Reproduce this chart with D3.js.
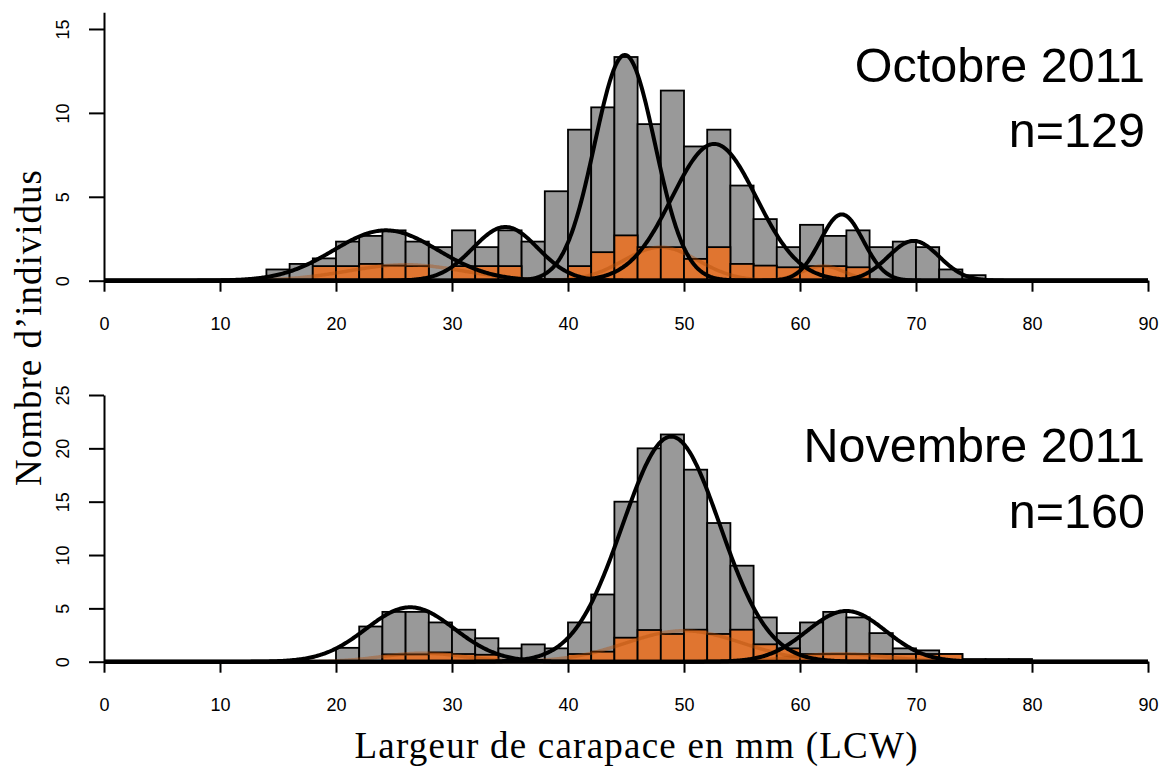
<!DOCTYPE html>
<html><head><meta charset="utf-8">
<script src="https://cdn.jsdelivr.net/npm/d3@7/dist/d3.min.js"></script>
<style>body{margin:0;background:#fff}svg{display:block}</style>
</head><body>
<svg id="c" width="1174" height="769"></svg>
<script>
// ---------- data ----------
const binWidth = 2;
const xTicks = [0,10,20,30,40,50,60,70,80,90];

// Octobre 2011
const octTitle = "Octobre 2011";
const octN = "n=129";
const octBins   = [14,16,18,20,22,24,26,28,30,32,34,36,38,40,42,44,46,48,50,52,54,56,58,60,62,64,66,68,70,72,74];
const octGray   = [0.67,1,1.33,2.33,2.67,3,2.33,2,3,2,3,2.33,5.33,9,10.33,13.33,9.33,11.33,8,9,5.67,3.67,2,3.33,2.67,3,2,2.33,2,0.67,0.33];
const octOrange = [0,0,0.87,0.87,1.0,0.9,0.87,0,0.87,0.87,0.87,0,0,0.87,1.7,2.7,2,2,1.3,2,1,0.9,0.8,0.87,0.87,0.8,0,0,0,0,0];
const octYTicks = [0,5,10,15];
const octYMax = 16;
// fitted components (mean, sd, peak height)
const octMeans = [24.3,34.6,44.9,52.6,63.6,69.8];
const octSds   = [4.5,2.8,2.6,3.65,1.85,2.2];
const octPeaks = [3.0,3.2,13.45,8.15,3.95,2.37];
const octOrMeans = [26,48,62];
const octOrSds   = [5,3.2,1.8];
const octOrPeaks = [0.95,2.0,0.88];

// Novembre 2011
const novTitle = "Novembre 2011";
const novN = "n=160";
const novBins   = [20,22,24,26,28,30,32,34,36,38,40,42,44,46,48,50,52,54,56,58,60,62,64,66,68,70,72,74,76,78];
const novGray   = [1.3,3.3,4.67,4.67,3.68,3,2.2,1.25,1.62,1.25,3.68,6.3,15,20,21.3,18,13,9,4.15,2.68,3.68,4.67,4.15,2.68,1.25,1.06,0.72,0.25,0.25,0.25];
const novOrange = [0,0,0.69,0.69,0.87,0.72,0.65,0,0,0,0.72,0.94,2.25,2.97,2.6,3,2.6,3,1.63,1.25,0.72,0.72,0.72,0.72,0.72,0.72,0.72,0,0,0];
const novYTicks = [0,5,10,15,20,25];
const novYMax = 25;
const novMeans = [26.4,48.9,64.0];
const novSds   = [3.8,4.2,3.4];
const novPeaks = [5.1,21.1,4.75];
const novOrMeans = [27.5,50,63.5];
const novOrSds   = [3.5,5,4];
const novOrPeaks = [0.8,2.9,0.75];

const yLabel = "Nombre d\u2019individus";
const xLabel = "Largeur de carapace en mm (LCW)";

// ---------- drawing ----------
const svg = d3.select("#c");
svg.append("rect").attr("width",1174).attr("height",769).attr("fill","#fff");

const x = d3.scaleLinear().domain([0,90]).range([104,1148]);
const gridX = d3.range(0, 90.001, 0.1);

const panels = [
  {title:octTitle, n:octN, bins:octBins, gray:octGray, orange:octOrange, yTicks:octYTicks, yMax:octYMax,
   means:octMeans, sds:octSds, peaks:octPeaks, oMeans:octOrMeans, oSds:octOrSds, oPeaks:octOrPeaks,
   y0:280.7, yTop:12.2, tBase:82, nBase:147},
  {title:novTitle, n:novN, bins:novBins, gray:novGray, orange:novOrange, yTicks:novYTicks, yMax:novYMax,
   means:novMeans, sds:novSds, peaks:novPeaks, oMeans:novOrMeans, oSds:novOrSds, oPeaks:novOrPeaks,
   y0:661.7, yTop:395, tBase:462, nBase:528}
];

const gauss = (m,s,h) => v => h*Math.exp(-((v-m)*(v-m))/(2*s*s));

panels.forEach(p => {
  const y = d3.scaleLinear().domain([0,p.yMax]).range([p.y0,p.yTop]);
  const g = svg.append("g");

  // gray bars
  g.selectAll("rect.gray").data(p.bins.map((b,i)=>({b, v:p.gray[i]})))
    .join("rect").attr("class","gray")
    .attr("x", d=>x(d.b)).attr("width", d=>x(d.b+binWidth)-x(d.b))
    .attr("y", d=>y(d.v)).attr("height", d=>y(0)-y(d.v))
    .attr("fill","#999999").attr("stroke","#000").attr("stroke-width",1.8);

  // orange bars
  g.selectAll("rect.or").data(p.bins.map((b,i)=>({b, v:p.orange[i]})).filter(d=>d.v>0))
    .join("rect").attr("class","or")
    .attr("x", d=>x(d.b)).attr("width", d=>x(d.b+binWidth)-x(d.b))
    .attr("y", d=>y(d.v)).attr("height", d=>y(0)-y(d.v))
    .attr("fill","#E07530").attr("stroke","#000").attr("stroke-width",1.8);

  // axes
  const ax = d3.axisBottom(x).tickValues(xTicks).tickSize(11).tickSizeOuter(0).tickPadding(26);
  const gx = svg.append("g").attr("transform",`translate(0,${p.y0})`).call(ax);
  gx.selectAll("path,line").attr("stroke","#000").attr("stroke-width",2);
  gx.selectAll("text").attr("font-family","'Liberation Sans',Arial,sans-serif").attr("font-size",18).attr("fill","#000");

  const ay = d3.axisLeft(y).tickValues(p.yTicks).tickSize(15).tickSizeOuter(0);
  const gy = svg.append("g").attr("transform","translate(104,0)").call(ay);
  gy.selectAll("path,line").attr("stroke","#000").attr("stroke-width",2);
  gy.selectAll("text")
    .attr("x",0).attr("y",-35.5).attr("dy",0)
    .attr("transform","rotate(-90)").attr("text-anchor","middle")
    .attr("font-family","'Liberation Sans',Arial,sans-serif").attr("font-size",18).attr("fill","#000");

  const line = d3.line().x(d=>x(d[0])).y(d=>y(d[1]));

  // orange component curves (faint)
  p.oMeans.forEach((m,i) => {
    const f = gauss(m,p.oSds[i],p.oPeaks[i]);
    g.append("path").datum(gridX.map(v=>[v,f(v)])).attr("d",line)
      .attr("fill","none").attr("stroke","#b04a08").attr("stroke-opacity",0.4).attr("stroke-width",3.5);
  });
  // black component curves
  p.means.forEach((m,i) => {
    const f = gauss(m,p.sds[i],p.peaks[i]);
    g.append("path").datum(gridX.map(v=>[v,f(v)])).attr("d",line)
      .attr("fill","none").attr("stroke","#000").attr("stroke-width",4).attr("stroke-linejoin","round");
  });

  // titles
  svg.append("text").attr("x",1145).attr("y",p.tBase).attr("text-anchor","end")
    .attr("font-family","'Liberation Sans',Arial,sans-serif").attr("font-size",48.5).text(p.title);
  svg.append("text").attr("x",1145).attr("y",p.nBase).attr("text-anchor","end")
    .attr("font-family","'Liberation Sans',Arial,sans-serif").attr("font-size",48.5).text(p.n);
});

// axis titles
svg.append("text").attr("transform","translate(41,328) rotate(-90)").attr("text-anchor","middle")
  .attr("font-family","'Liberation Serif','Times New Roman',serif").attr("font-size",37)
  .attr("textLength",316).attr("lengthAdjust","spacing").text(yLabel);
svg.append("text").attr("x",636).attr("y",758).attr("text-anchor","middle")
  .attr("font-family","'Liberation Serif','Times New Roman',serif").attr("font-size",37)
  .attr("textLength",563).attr("lengthAdjust","spacing").text(xLabel);
</script>
</body></html>
